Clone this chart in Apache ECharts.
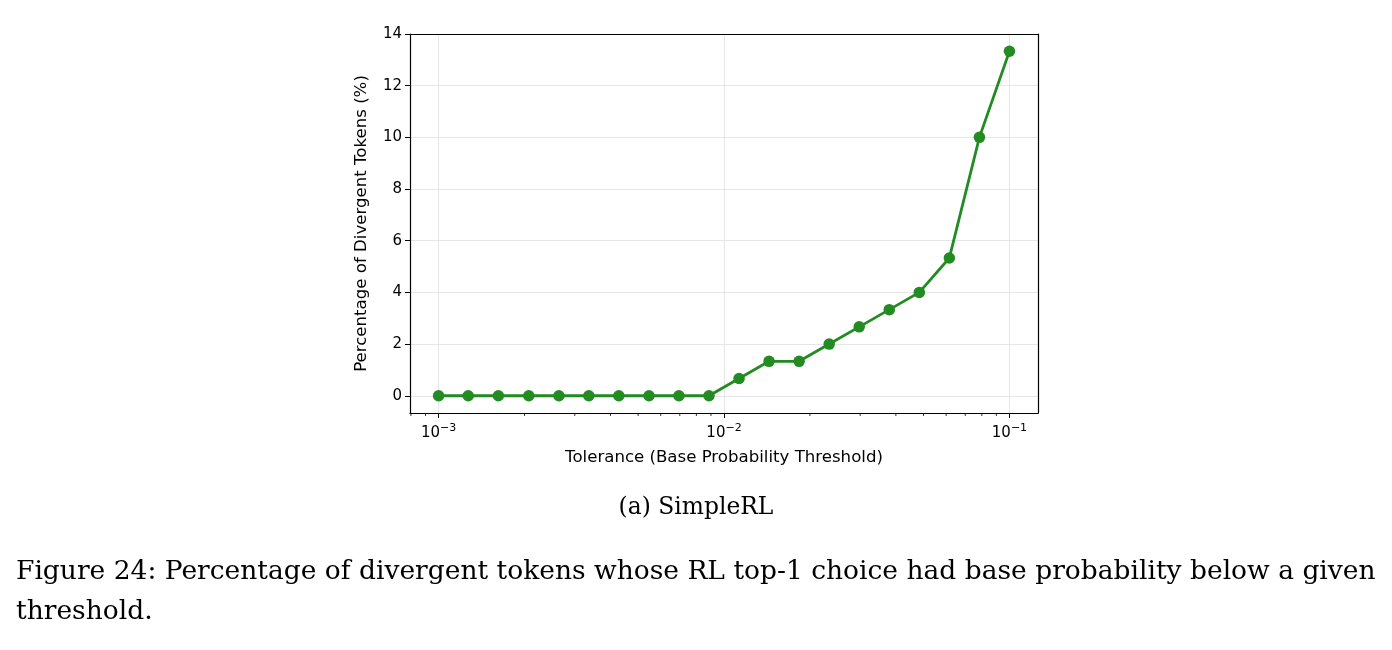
<!DOCTYPE html>
<html style="height: 100%">
<head>
<meta charset="utf-8">
<script src="https://cdn.jsdelivr.net/npm/echarts@6/dist/echarts.min.js"></script>
</head>
<body style="height: 100%; margin: 0; background: #fff">
<div id="container" style="width: 1392px; height: 650px"></div>
<script type="text/javascript">
var dom = document.getElementById('container');
var myChart = echarts.init(dom);

// tolerance thresholds (x, log scale) and percentage of divergent tokens (y)
const tolerance = [0.001, 0.00127, 0.00162, 0.00207, 0.00264, 0.00336, 0.00428, 0.00546, 0.00695, 0.00886,
  0.01129, 0.01438, 0.01833, 0.02336, 0.02976, 0.03793, 0.04833, 0.06158, 0.07848, 0.1];
const percent = [0, 0, 0, 0, 0, 0, 0, 0, 0, 0,
  0.667, 1.333, 1.333, 2.0, 2.667, 3.333, 4.0, 5.333, 10.0, 13.333];
// minor tick positions on the log axis
const minorTicks = [0.0008, 0.0009, 0.002, 0.003, 0.004, 0.005, 0.006, 0.007, 0.008, 0.009,
  0.02, 0.03, 0.04, 0.05, 0.06, 0.07, 0.08, 0.09];

const xMin = 0.000794, xMax = 0.1259;
const yMin = -0.667, yMax = 14;

var font = 'DejaVu Sans';
var tickSize = 15;
var titleSize = 16.6;

// plain frame axes for the top and right spines
function frameAxis(extra) {
  return Object.assign({
    show: true,
    axisLine: { show: true, onZero: false, lineStyle: { color: '#000', width: 1.2 } },
    axisTick: { show: false },
    axisLabel: { show: false },
    splitLine: { show: false }
  }, extra);
}

var option = {
  animation: false,
  grid: {
    left: 410, right: 354, top: 34, bottom: 237
  },
  xAxis: [
    {
      type: 'log',
      logBase: 10,
      min: xMin,
      max: xMax,
      name: 'Tolerance (Base Probability Threshold)',
      nameLocation: 'middle',
      nameGap: 36,
      nameTextStyle: { fontFamily: font, fontSize: titleSize, color: '#000' },
      axisLine: { show: true, onZero: false, lineStyle: { color: '#000', width: 1.2 } },
      axisTick: { show: true, inside: false, length: 5, lineStyle: { color: '#000', width: 1 } },
      splitLine: { show: true, lineStyle: { color: '#e6e6e6', width: 1 } },
      axisLabel: {
        showMinLabel: false,
        showMaxLabel: false,
        margin: 10,
        formatter: function (v) {
          var e = Math.round(Math.log10(v));
          return '{b|10}{s|\u2212' + (-e) + '}';
        },
        rich: {
          b: { fontFamily: font, fontSize: tickSize, color: '#000' },
          s: { fontFamily: font, fontSize: 11, color: '#000', padding: [0, 0, 10, 0] }
        }
      }
    },
    frameAxis({ type: 'log', logBase: 10, min: xMin, max: xMax, position: 'top' })
  ],
  yAxis: [
    {
      type: 'value',
      min: yMin,
      max: yMax,
      splitNumber: 7,
      name: 'Percentage of Divergent Tokens (%)',
      nameLocation: 'middle',
      nameGap: 40,
      nameTextStyle: { fontFamily: font, fontSize: titleSize, color: '#000' },
      axisLine: { show: true, lineStyle: { color: '#000', width: 1.2 } },
      axisTick: { show: true, inside: false, length: 5, lineStyle: { color: '#000', width: 1 } },
      splitLine: { show: true, lineStyle: { color: '#e6e6e6', width: 1 } },
      axisLabel: {
        showMinLabel: false,
        margin: 8,
        fontFamily: font, fontSize: tickSize, color: '#000'
      }
    },
    frameAxis({ type: 'value', min: yMin, max: yMax, position: 'right' })
  ],
  series: [
    {
      type: 'line',
      data: tolerance.map(function (t, i) { return [t, percent[i]]; }),
      symbol: 'circle',
      symbolSize: 11.5,
      lineStyle: { color: '#228B22', width: 2.8 },
      itemStyle: { color: '#228B22' },
      z: 5
    },
    {
      type: 'custom',
      silent: true,
      clip: false,
      data: minorTicks.map(function (t) { return [t, yMin]; }),
      renderItem: function (params, api) {
        var p = api.coord([api.value(0), api.value(1)]);
        return {
          type: 'line',
          shape: { x1: p[0], y1: p[1], x2: p[0], y2: p[1] + 3 },
          style: { stroke: '#000', lineWidth: 0.8 }
        };
      }
    }
  ],
  graphic: {
    elements: [
      {
        type: 'text', left: 'center', top: 496,
        style: { text: '(a) SimpleRL', font: '23.4px "DejaVu Serif"', fill: '#000' }
      },
      {
        type: 'text', left: 16, top: 559,
        style: { text: 'Figure 24: Percentage of divergent tokens whose RL top-1 choice had base probability below a given', font: '26.5px "DejaVu Serif"', fill: '#000' }
      },
      {
        type: 'text', left: 16, top: 599,
        style: { text: 'threshold.', font: '26.5px "DejaVu Serif"', fill: '#000' }
      }
    ]
  }
};

myChart.setOption(option);
</script>
</body>
</html>
